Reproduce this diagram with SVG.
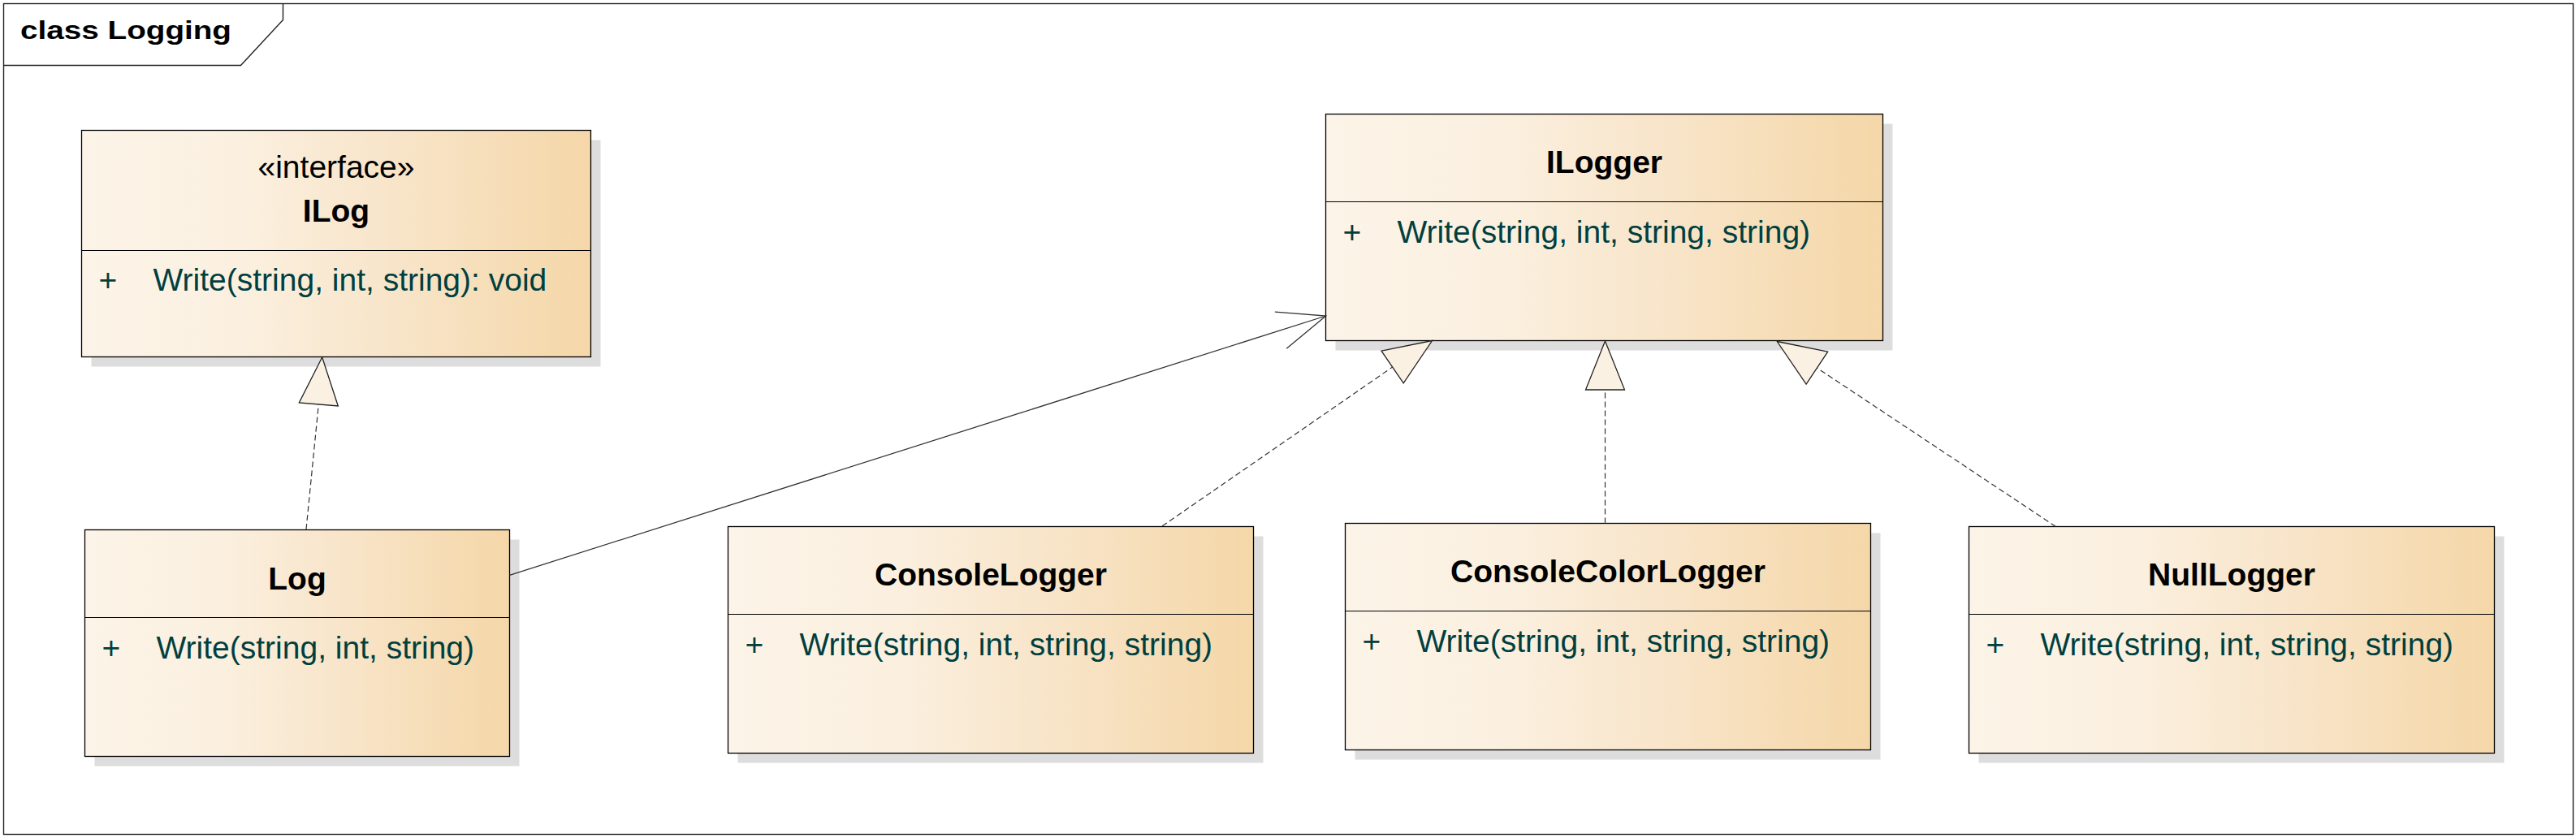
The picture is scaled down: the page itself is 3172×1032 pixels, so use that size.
<svg xmlns="http://www.w3.org/2000/svg" width="3172" height="1032" viewBox="0 0 3172 1032">
<defs>
<linearGradient id="fill" x1="0" y1="0" x2="1" y2="0">
<stop offset="0" stop-color="#fcf4e8"/>
<stop offset="0.3" stop-color="#fbf0e0"/>
<stop offset="0.6" stop-color="#f8e5ca"/>
<stop offset="1" stop-color="#f5d7a8"/>
</linearGradient>
<style>
.shadow{fill:#dddddd;stroke:none}
.box{fill:url(#fill);stroke:#000;stroke-width:1.3}
.div{stroke:#000;stroke-width:1.2}
.name{font-family:"Liberation Sans",Arial,sans-serif;font-size:39px;font-weight:bold;fill:#000;text-anchor:middle}
.stereo{font-family:"Liberation Sans",Arial,sans-serif;font-size:39px;fill:#000;text-anchor:middle}
.op{font-family:"Liberation Sans",Arial,sans-serif;font-size:39px;fill:#003f3f}
.dash{fill:none;stroke:#333;stroke-width:1.2;stroke-dasharray:7 4}
.solid{fill:none;stroke:#333;stroke-width:1.3}
.tri{fill:#fbf1e3;stroke:#222;stroke-width:1.3;stroke-linejoin:miter}
.frame{fill:none;stroke:#222;stroke-width:1.4}
.title{font-family:"Liberation Sans",Arial,sans-serif;font-size:31px;font-weight:bold;fill:#000}
</style>
</defs>
<rect x="0" y="0" width="3172" height="1032" fill="#fff"/>
<g id="frame">
<rect class="frame" x="4.5" y="4.5" width="3164" height="1023"/>
<polyline class="frame" points="348.5,4.5 348.5,24.5 296.5,80.5 4.5,80.5"/>
<text class="title" x="25" y="48" textLength="260" lengthAdjust="spacingAndGlyphs">class Logging</text>
</g>
<g id="ILog">
<rect class="shadow" x="112.5" y="172.5" width="627" height="279"/>
<rect class="box" x="100.5" y="160.5" width="627" height="279"/>
<line class="div" x1="100.5" y1="308.5" x2="727.5" y2="308.5"/>
<text class="stereo" x="414" y="219">«interface»</text>
<text class="name" x="414" y="273">ILog</text>
<text class="op" x="121.5" y="358">+</text>
<text class="op" x="188.5" y="358">Write(string, int, string): void</text>
</g>
<g id="ILogger">
<rect class="shadow" x="1644.5" y="152.5" width="686" height="279"/>
<rect class="box" x="1632.5" y="140.5" width="686" height="279"/>
<line class="div" x1="1632.5" y1="248.5" x2="2318.5" y2="248.5"/>
<text class="name" x="1975.5" y="213">ILogger</text>
<text class="op" x="1653.5" y="299">+</text>
<text class="op" x="1720.5" y="299">Write(string, int, string, string)</text>
</g>
<g id="Log">
<rect class="shadow" x="116.5" y="664.5" width="523" height="279"/>
<rect class="box" x="104.5" y="652.5" width="523" height="279"/>
<line class="div" x1="104.5" y1="760.5" x2="627.5" y2="760.5"/>
<text class="name" x="366" y="726">Log</text>
<text class="op" x="125.5" y="811">+</text>
<text class="op" x="192.5" y="811">Write(string, int, string)</text>
</g>
<g id="ConsoleLogger">
<rect class="shadow" x="908.5" y="660.5" width="647" height="279"/>
<rect class="box" x="896.5" y="648.5" width="647" height="279"/>
<line class="div" x1="896.5" y1="756.5" x2="1543.5" y2="756.5"/>
<text class="name" x="1220" y="720.5">ConsoleLogger</text>
<text class="op" x="917.5" y="806.5">+</text>
<text class="op" x="984.5" y="806.5">Write(string, int, string, string)</text>
</g>
<g id="ConsoleColorLogger">
<rect class="shadow" x="1668.5" y="656.5" width="647" height="279"/>
<rect class="box" x="1656.5" y="644.5" width="647" height="279"/>
<line class="div" x1="1656.5" y1="752.5" x2="2303.5" y2="752.5"/>
<text class="name" x="1980" y="716.5">ConsoleColorLogger</text>
<text class="op" x="1677.5" y="803">+</text>
<text class="op" x="1744.5" y="803">Write(string, int, string, string)</text>
</g>
<g id="NullLogger">
<rect class="shadow" x="2436.5" y="660.5" width="647" height="279"/>
<rect class="box" x="2424.5" y="648.5" width="647" height="279"/>
<line class="div" x1="2424.5" y1="756.5" x2="3071.5" y2="756.5"/>
<text class="name" x="2748" y="720.5">NullLogger</text>
<text class="op" x="2445.5" y="807">+</text>
<text class="op" x="2512.5" y="807">Write(string, int, string, string)</text>
</g>
<g id="connectors">
<line class="dash" x1="377" y1="652" x2="392.3" y2="498"/>
<polygon class="tri" points="396.7,440 368.3,496 416.3,500"/>
<line class="solid" x1="627.5" y1="708.3" x2="1632.7" y2="389"/>
<polyline class="solid" points="1569.9,384.2 1632.7,389 1584.2,429.2"/>
<line class="dash" x1="1431" y1="648" x2="1714.6" y2="452"/>
<polygon class="tri" points="1763.5,419.5 1701,432.2 1728.2,471.8"/>
<line class="dash" x1="1976.5" y1="644.5" x2="1976.5" y2="480"/>
<polygon class="tri" points="1976.5,420 1952.5,480 2000.5,480"/>
<line class="dash" x1="2531.5" y1="648.5" x2="2237.4" y2="453.1"/>
<polygon class="tri" points="2188.3,420.5 2250.7,433.1 2224.1,473.1"/>
</g>
</svg>
